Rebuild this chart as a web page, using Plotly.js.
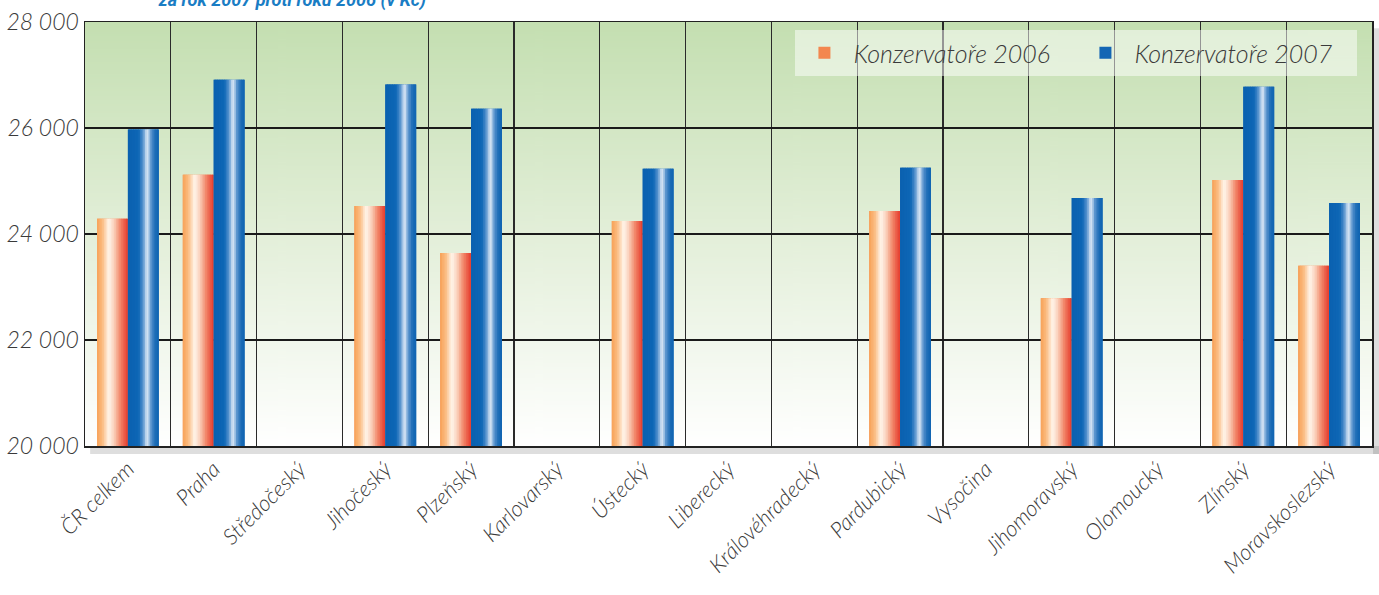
<!DOCTYPE html>
<html>
<head>
<meta charset="utf-8">
<script src="https://cdn.plot.ly/plotly-3.0.1.min.js"></script>
<style>html,body{margin:0;padding:0;background:#fff;}#chart{width:1379px;height:595px;}</style>
</head>
<body>
<div id="chart"></div>
<script>
// ---- data ----
const regions = ["ČR celkem","Praha","Středočeský","Jihočeský","Plzeňský","Karlovarský","Ústecký","Liberecký","Královéhradecký","Pardubický","Vysočina","Jihomoravský","Olomoucký","Zlínský","Moravskoslezský"];
const values2006 = [24290, 25120, null, 24530, 23640, null, 24245, null, null, 24435, null, 22790, null, 25020, 23400];
const values2007 = [25970, 26910, null, 26820, 26365, null, 25232, null, null, 25250, null, 24680, null, 26780, 24585];
const seriesNames = ["Konzervatoře 2006", "Konzervatoře 2007"];
const yTicks = [20000, 22000, 24000, 26000, 28000];

// ---- styling helpers ----
const orangeStops = [[0,"#F8A257"],[0.18,"#FBBC82"],[0.38,"#FFF6EC"],[0.55,"#FAD0BA"],[0.75,"#F2876A"],[1,"#E4392B"]];
const blueStops = [[0,"#0A60B0"],[0.35,"#0E67B6"],[0.5,"#5D97D0"],[0.62,"#E3EDF8"],[0.75,"#5B95CE"],[0.88,"#1C6CB7"],[1,"#0F64B2"]];
function hex2rgb(h){return [parseInt(h.slice(1,3),16),parseInt(h.slice(3,5),16),parseInt(h.slice(5,7),16)];}
function colorAt(stops,t){
  for(let i=0;i<stops.length-1;i++){
    const [t0,c0]=stops[i],[t1,c1]=stops[i+1];
    if(t>=t0&&t<=t1){
      const f=(t-t0)/(t1-t0),a=hex2rgb(c0),b=hex2rgb(c1);
      return `rgb(${a.map((v,k)=>Math.round(v+(b[k]-v)*f)).join(",")})`;
    }
  }
  return stops[stops.length-1][1];
}
const BAR_W = 0.36, NSTRIP = 18;
function seriesTraces(vals, name, offset, stops, legendColor){
  const tr = [{
    type:"bar", x:regions, y:vals, name:name, width:BAR_W, offset:offset,
    marker:{color:legendColor, line:{width:0}}, hoverinfo:"skip", showlegend:true
  }];
  const w = BAR_W/NSTRIP;
  for(let i=0;i<NSTRIP;i++){
    tr.push({
      type:"bar", x:regions, y:vals, width:Math.min(w*1.5, BAR_W - i*w), offset:offset+i*w,
      marker:{color:colorAt(stops,(i+0.5)/NSTRIP), line:{width:0}},
      hoverinfo:"skip", showlegend:false
    });
  }
  return tr;
}
const traces = [
  ...seriesTraces(values2006, seriesNames[0], -BAR_W, orangeStops, "#F3874F"),
  ...seriesTraces(values2007, seriesNames[1], 0, blueStops, "#1466B4")
];

// background gradient image
const cv = document.createElement("canvas");
cv.width = 10; cv.height = 400;
const ctx = cv.getContext("2d");
const g = ctx.createLinearGradient(0,0,0,400);
g.addColorStop(0,"#C4DFB1"); g.addColorStop(0.5,"#E3EFD9"); g.addColorStop(1,"#FFFFFF");
ctx.fillStyle = g; ctx.fillRect(0,0,10,400);
const bgURL = cv.toDataURL();

const labelFont = {family:"Lato, 'Open Sans', 'DejaVu Sans', sans-serif", size:22, color:"#3a3a3a", style:"italic", weight:300};

const layout = {
  width:1379, height:595,
  margin:{l:85, r:7, t:22, b:149},
  paper_bgcolor:"#ffffff", plot_bgcolor:"rgba(0,0,0,0)",
  barmode:"overlay",
  separators:", ",
  title:{text:"za rok 2007 proti roku 2006 (v Kč)", xref:"container", yref:"container", x:0.212, xanchor:"center", y:1, yanchor:"middle",
    font:{family:"Roboto, 'Liberation Sans', sans-serif", size:18, color:"#1A7DC4", weight:700, style:"italic"}},
  xaxis:{type:"category", tickson:"boundaries", showgrid:true, gridcolor:"#2a2a2a", gridwidth:1.2,
    showline:true, linecolor:"#222", linewidth:1.5, mirror:true, ticks:"", tickangle:-45,
    tickfont:labelFont, range:[-0.5,14.5], fixedrange:true},
  yaxis:{range:[20000,28000], tickvals:yTicks, tickformat:",d", showgrid:true, gridcolor:"#1a1a1a", gridwidth:1.2,
    showline:true, linecolor:"#222", linewidth:1.5, mirror:true, ticks:"", zeroline:false,
    tickfont:Object.assign({}, labelFont, {size:23}), fixedrange:true},
  legend:{orientation:"h", x:0.552, xanchor:"left", y:0.981, yanchor:"top",
    bgcolor:"rgba(255,255,255,0.5)", borderwidth:0, itemwidth:48, entrywidth:218, entrywidthmode:"pixels",
    font:Object.assign({}, labelFont, {size:25}), traceorder:"normal"},
  images:[{source:bgURL, xref:"paper", yref:"paper", x:0, y:1, sizex:1, sizey:1, sizing:"stretch", layer:"below", xanchor:"left", yanchor:"top"}],
  shapes:[
    {type:"rect", xref:"paper", yref:"paper", x0:0.004, x1:1.0055, y0:-0.019, y1:0, fillcolor:"rgba(0,0,0,0.13)", line:{width:0}, layer:"below"},
    {type:"rect", xref:"paper", yref:"paper", x0:1.0008, x1:1.0055, y0:-0.019, y1:0.985, fillcolor:"rgba(0,0,0,0.13)", line:{width:0}, layer:"below"}
  ],
  showlegend:true
};
Plotly.newPlot("chart", traces, layout, {staticPlot:true, displayModeBar:false});
</script>
</body>
</html>
